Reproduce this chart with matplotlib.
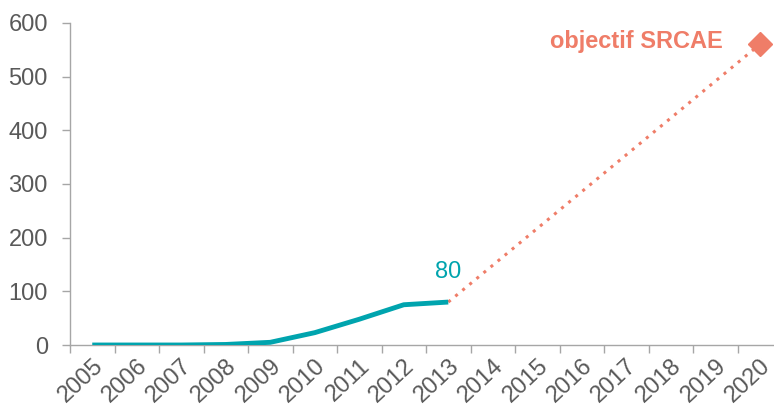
import matplotlib.pyplot as plt
from matplotlib.transforms import ScaledTranslation

# données
annees = [str(a) for a in range(2005, 2021)]
historique = [0, 0, 0, 1, 5, 23, 48, 75, 80]
objectif_annee = 2020
objectif_valeur = 560

teal = '#00A4AE'
saumon = '#EF7D68'
gris = '#595959'

plt.rcParams['font.family'] = ['Liberation Sans', 'DejaVu Sans']

fig = plt.figure(figsize=(7.74, 4.08), dpi=100)
ax = fig.add_axes([70 / 774, 63 / 408, 712 / 774, 322 / 408])

x_hist = list(range(len(historique)))
ax.plot(x_hist, historique, color=teal, linewidth=3.5, solid_capstyle='butt', zorder=3)

# projection vers l'objectif
x_obj = annees.index(str(objectif_annee))
ax.plot([x_hist[-1], x_obj], [historique[-1], objectif_valeur], color=saumon,
        linewidth=2.2, linestyle=(0, (1, 2.0)), zorder=2)
ax.plot(x_obj, objectif_valeur, marker='D', color=saumon, markersize=12, zorder=4, clip_on=False)

ax.text(x_hist[-1], historique[-1] + 35, str(historique[-1]), color=teal,
        fontsize=17, ha='center', va='bottom')
ax.text(x_obj - 0.83, objectif_valeur + 5, 'objectif SRCAE', color=saumon,
        fontsize=17, fontweight='bold', ha='right', va='center')

ax.set_xlim(-0.5, len(annees) - 0.5)
ax.set_ylim(0, 600)
ax.set_yticks(range(0, 601, 100))
ax.set_xticks([i + 0.5 for i in range(-1, len(annees))], minor=False)
ax.set_xticklabels([])
ax.set_xticks(range(len(annees)), minor=True)
ax.set_xticklabels(annees, minor=True, rotation=43, ha='right', va='top', rotation_mode='anchor')
decal = ScaledTranslation(5 / 100, 0, fig.dpi_scale_trans)
for lab in ax.get_xticklabels(minor=True):
    lab.set_transform(lab.get_transform() + decal)

for s in ['top', 'right']:
    ax.spines[s].set_visible(False)
for s in ['left', 'bottom']:
    ax.spines[s].set_color('#A6A6A6')
    ax.spines[s].set_linewidth(1)

ax.tick_params(axis='y', colors='#A6A6A6', labelcolor=gris, labelsize=17, length=6, width=1, pad=10)
ax.tick_params(axis='x', which='major', colors='#A6A6A6', length=6, width=1)
ax.tick_params(axis='x', which='minor', length=0, labelcolor=gris, labelsize=17, pad=7)

fig.savefig('out.png', dpi=100)
